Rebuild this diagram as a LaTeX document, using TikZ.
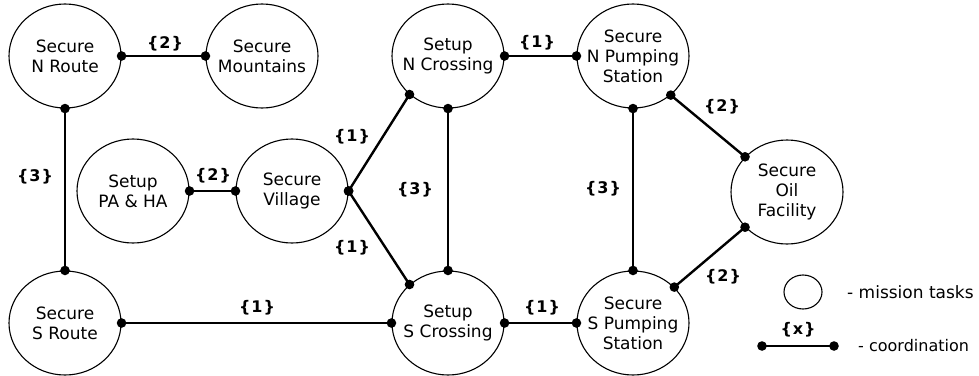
\documentclass[tikz,border=0pt]{standalone}
\usepackage{fontspec}
\setmainfont{DejaVu Sans}
\newfontfamily\lblfont{DejaVu Sans}[LetterSpace=6]
\usetikzlibrary{shapes.geometric}

\tikzset{
  task/.style={ellipse, draw, line width=1.1pt, minimum width=112pt,
               minimum height=104pt, inner sep=0pt},
  tasktext/.style={align=center, inner sep=0pt,
                   font=\fontsize{17}{20}\selectfont},
  conn/.style={line width=2.4pt},
  lbl/.style={inner sep=0pt, font=\lblfont\bfseries\fontsize{16}{18}\selectfont},
  legtext/.style={anchor=west, inner sep=0pt, font=\fontsize{17}{20}\selectfont}
}

% a mission task: ellipse plus its centred caption
\newcommand\mtask[4]{%
  \node[task] (#1) at (#2,#3) {};
  \node[tasktext] (#1-t) at (#1) {#4};}
% a coordination link with dots at both ends
\newcommand\mlink[2]{%
  \draw[conn] (#1) -- (#2);
  \fill (#1) circle[radius=4.8];
  \fill (#2) circle[radius=4.8];}

\begin{document}
\begin{tikzpicture}[x=1pt, y=-1pt]
\useasboundingbox (0,0) rectangle (979,375);

% tasks
\mtask{NR}{65}{56}{Secure\\N Route}
\mtask{SM}{262}{56}{Secure\\Mountains}
\mtask{NC}{448}{56}{Setup\\N Crossing}
\mtask{NP}{633}{56}{Secure\\N Pumping\\Station}
\mtask{PA}{133}{191}{Setup\\PA \& HA}
\mtask{SV}{292}{191}{Secure\\Village}
\mtask{OF}{787}{192}{Secure\\Oil\\Facility}
\mtask{SR}{65}{323}{Secure\\S Route}
\mtask{SC}{448}{323}{Setup\\S Crossing}
\mtask{SP}{633}{323}{Secure\\S Pumping\\Station}

% coordination links
\mlink{NR.east}{SM.west}
\mlink{NC.east}{NP.west}
\mlink{NR.south}{SR.north}
\mlink{PA.east}{SV.west}
\mlink{SV.east}{NC.225}
\mlink{SV.east}{SC.135}
\mlink{NC.south}{SC.north}
\mlink{NP.south}{SP.north}
\mlink{NP.-46}{OF.140}
\mlink{SP.41}{OF.220}
\mlink{SR.east}{SC.west}
\mlink{SC.east}{SP.west}

% coordination weights
\node[lbl] (w1) at (165,44) {\{2\}};
\node[lbl] (w2) at (537,43) {\{1\}};
\node[lbl] (w3) at (35,177) {\{3\}};
\node[lbl] (w4) at (213,176) {\{2\}};
\node[lbl] (w5) at (352,137) {\{1\}};
\node[lbl] (w6) at (352,248) {\{1\}};
\node[lbl] (w7) at (415,190) {\{3\}};
\node[lbl] (w8) at (603,189) {\{3\}};
\node[lbl] (w9) at (722,107) {\{2\}};
\node[lbl] (w10) at (723,277) {\{2\}};
\node[lbl] (w11) at (257,308) {\{1\}};
\node[lbl] (w12) at (542,308) {\{1\}};

% legend
\node[task, minimum width=38pt, minimum height=34pt] (legtask) at (803,292) {};
\node[legtext] (legtask-t) at (847,292) {- mission tasks};
\coordinate (legA) at (762,346);
\coordinate (legB) at (834,346);
\mlink{legA}{legB}
\node[lbl] (legw) at (798,330) {\{x\}};
\node[legtext, font=\fontsize{16}{20}\selectfont] (legconn-t) at (858,346) {- coordination};
\end{tikzpicture}
\end{document}
